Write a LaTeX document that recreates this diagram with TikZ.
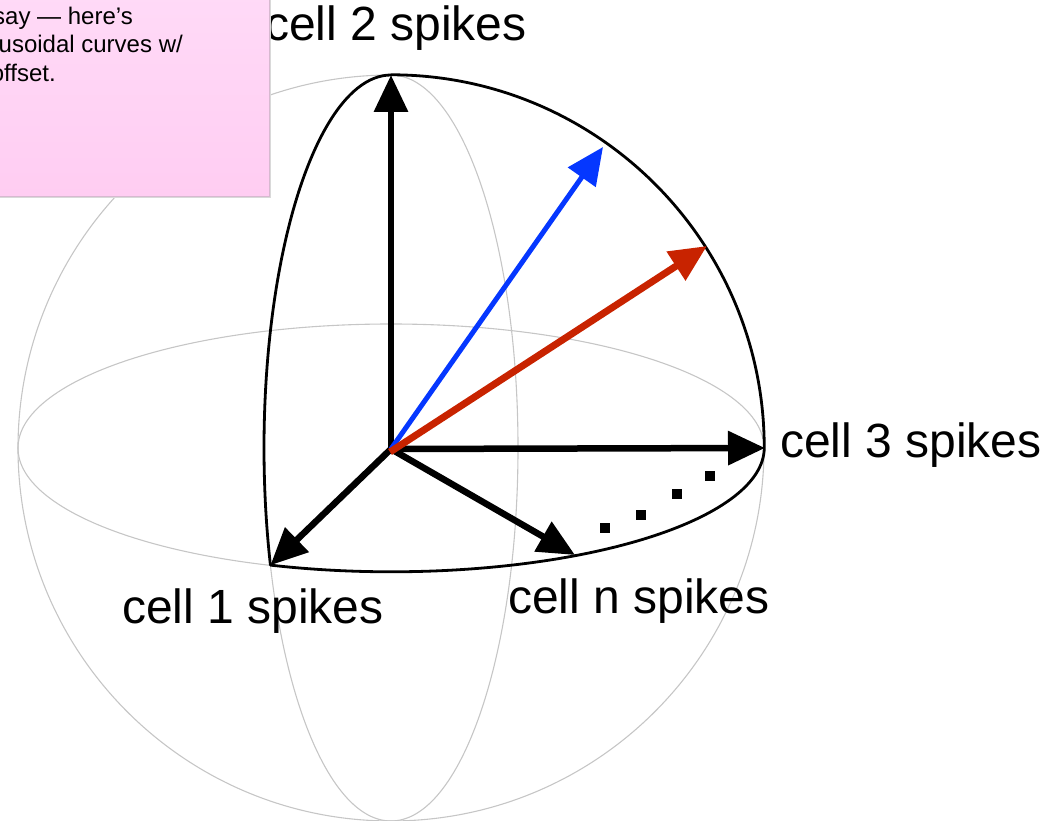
\documentclass[tikz,border=0pt]{standalone}
\usepackage{fontspec}
\setmainfont{Liberation Sans}
\usetikzlibrary{arrows.meta}
\definecolor{vblue}{RGB}{5,55,255}
\definecolor{vred}{RGB}{200,35,0}
\definecolor{notetop}{RGB}{255,218,247}
\definecolor{notebot}{RGB}{255,205,242}
\definecolor{noteedge}{RGB}{215,185,208}
\begin{document}
\begin{tikzpicture}[x=1pt,y=1pt,
  guide/.style={draw=gray!45, line width=1.1pt},
  frame/.style={draw=black, line width=2.8pt, line join=round},
  vec/.style={line width=6.5pt, -{Triangle[width=33pt,length=37pt]}},
  lbl/.style={font=\fontsize{48}{56}\selectfont, inner sep=0pt, anchor=base west},
  notetext/.style={font=\fontsize{24}{28}\selectfont, inner sep=0pt, anchor=base east},
  dotsq/.style={fill=black, minimum size=10.5pt, inner sep=0pt, draw=none, rectangle}]
\useasboundingbox (0,0) rectangle (1052,820);
\clip (0,0) rectangle (1052,820);
\coordinate (C) at (391,372);
\coordinate (O) at (391,371);
\coordinate (top) at (391,745);
\coordinate (right) at (765,372);
\coordinate (c1) at (270.4,254.7);
\coordinate (cn) at (575,265);
\coordinate (bl) at (603,673);
\coordinate (rd) at (707,574);
% guide sphere
\draw[guide] (C) circle[radius=373];
\draw[guide] (C) ellipse[x radius=373, y radius=124];
\draw[guide] (C) ellipse[x radius=127, y radius=373];
% black octant frame
\draw[frame] (top) arc[start angle=90,end angle=198.3,x radius=127,y radius=373]
  arc[start angle=251.1,end angle=360,x radius=373,y radius=124]
  arc[start angle=0,end angle=90,radius=373] -- cycle;
% vectors
\draw[vec] (O) -- (top);
\draw[vec] (O) -- (right);
\draw[vec] (O) -- (c1);
\draw[vec] (O) -- (cn);
\draw[vec, vblue, line width=5pt] (O) -- (bl);
\draw[vec, vred, line width=7pt] (390,368) -- (rd);
% dots
\node[dotsq] (d1) at (605,292) {};
\node[dotsq] (d2) at (641,305) {};
\node[dotsq] (d3) at (677,326) {};
\node[dotsq] (d4) at (710,344) {};
% labels
\node[lbl] (l2) at (265,779) {cell 2 spikes};
\node[lbl] (l3) at (780,362) {cell 3 spikes};
\node[lbl] (l1) at (122,197) {cell 1 spikes};
\node[lbl] (ln) at (508,207) {cell n spikes};
% sticky note
\fill[gray!30] (-5,621.5) rectangle (270.5,826);
\shade[top color=notetop, bottom color=notebot, draw=noteedge, line width=0.8pt] (-5,624) rectangle (269,826);
\node[notetext] (n1) at (133,795) {say — here’s};
\node[notetext] (n2) at (183,767) {usoidal curves w/};
\node[notetext] (n3) at (56,738) {offset.};
\end{tikzpicture}
\end{document}
